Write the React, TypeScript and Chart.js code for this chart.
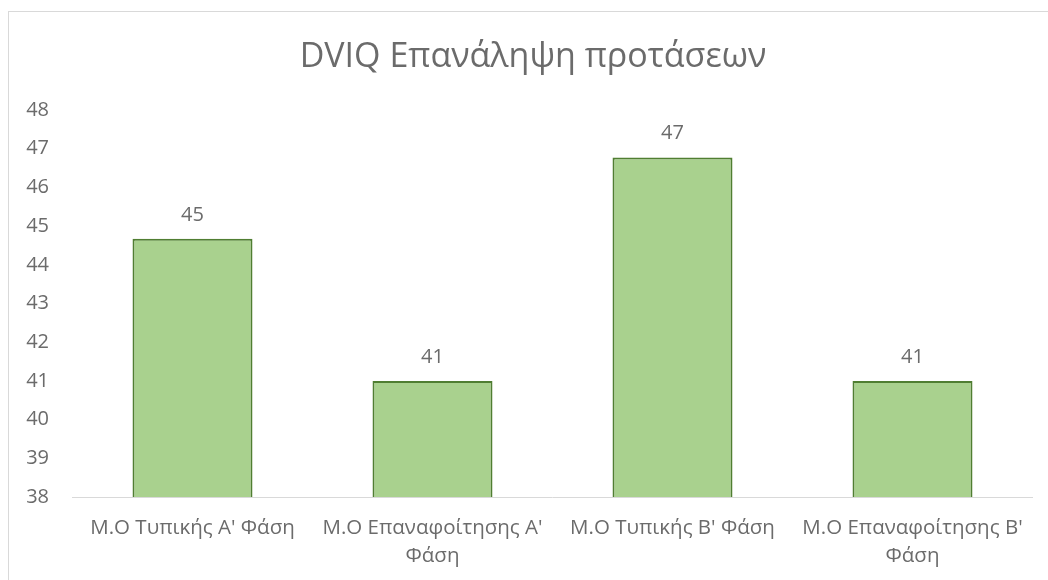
import React, { useEffect, useRef } from "react";
import { Chart, registerables } from "chart.js";

Chart.register(...registerables);

const TITLE = "DVIQ Επανάληψη προτάσεων";
const CATEGORIES: (string | string[])[] = [
  "M.O Τυπικής Α' Φάση",
  ["M.O Επαναφοίτησης Α'", "Φάση"],
  "M.O Τυπικής Β' Φάση",
  ["M.O Επαναφοίτησης Β'", "Φάση"],
];
const VALUES = [44.67, 41, 46.77, 41];
const Y_MIN = 38;
const Y_MAX = 48;
const Y_STEP = 1;

const FONT = "'Open Sans', 'Noto Sans', sans-serif";
const TEXT = "#6b6b6b";

const dataLabels = {
  id: "dataLabels",
  afterDatasetsDraw(chart: any) {
    const ctx = chart.ctx;
    const meta = chart.getDatasetMeta(0);
    ctx.save();
    ctx.font = `20px ${FONT}`;
    ctx.fillStyle = TEXT;
    ctx.textAlign = "center";
    ctx.textBaseline = "middle";
    meta.data.forEach((bar: any, i: number) => {
      const v = chart.data.datasets[0].data[i] as number;
      ctx.fillText(String(Math.round(v)), bar.x, bar.y - 24);
    });
    ctx.restore();
  },
};

const chartTitle = {
  id: "chartTitle",
  afterDraw(chart: any) {
    const ctx = chart.ctx;
    ctx.save();
    ctx.font = `34px ${FONT}`;
    ctx.fillStyle = TEXT;
    ctx.textAlign = "center";
    ctx.textBaseline = "middle";
    ctx.fillText(TITLE, chart.width / 2 - 4, 45.5);
    ctx.restore();
  },
};

export default function App() {
  const ref = useRef<HTMLCanvasElement | null>(null);
  useEffect(() => {
    if (!ref.current) return;
    const chart = new Chart(ref.current, {
      type: "bar",
      data: {
        labels: CATEGORIES,
        datasets: [
          {
            data: VALUES,
            backgroundColor: "#a9d18e",
            borderColor: "#507e32",
            borderWidth: 2,
            barPercentage: 0.5,
            categoryPercentage: 1.0,
          },
        ],
      },
      options: {
        animation: false,
        responsive: false,
        maintainAspectRatio: false,
        layout: { padding: { left: 0, right: 32.5, top: 98, bottom: 0 } },
        plugins: {
          legend: { display: false },
          tooltip: { enabled: false },
          title: { display: false },
        },
        scales: {
          x: {
            grid: { display: false, drawTicks: false },
            border: { display: true, color: "#d9d9d9", width: 1 },
            ticks: {
              color: TEXT,
              font: { family: FONT, size: 20.5, lineHeight: 1.36 },
              padding: 17.5,
              maxRotation: 0,
              minRotation: 0,
              autoSkip: false,
            },
            afterFit(scale: any) {
              scale.height = 83;
            },
          },
          y: {
            min: Y_MIN,
            max: Y_MAX,
            grid: { display: false, drawTicks: false },
            border: { display: false },
            ticks: {
              stepSize: Y_STEP,
              color: TEXT,
              font: { family: FONT, size: 20 },
              padding: 23.5,
            },
            afterFit(scale: any) {
              scale.width = 63.5;
            },
          },
        },
      },
      plugins: [dataLabels, chartTitle],
    });
    return () => chart.destroy();
  }, []);

  return (
    <div
      style={{
        position: "fixed",
        left: 8,
        top: 11,
        width: 1040,
        height: 569,
        overflow: "hidden",
        borderLeft: "1px solid #d9d9d9",
        borderTop: "1px solid #d9d9d9",
        background: "#ffffff",
      }}
    >
      <canvas
        ref={ref}
        width={1056}
        height={568}
        style={{ display: "block", width: 1056, height: 568 }}
      />
    </div>
  );
}
